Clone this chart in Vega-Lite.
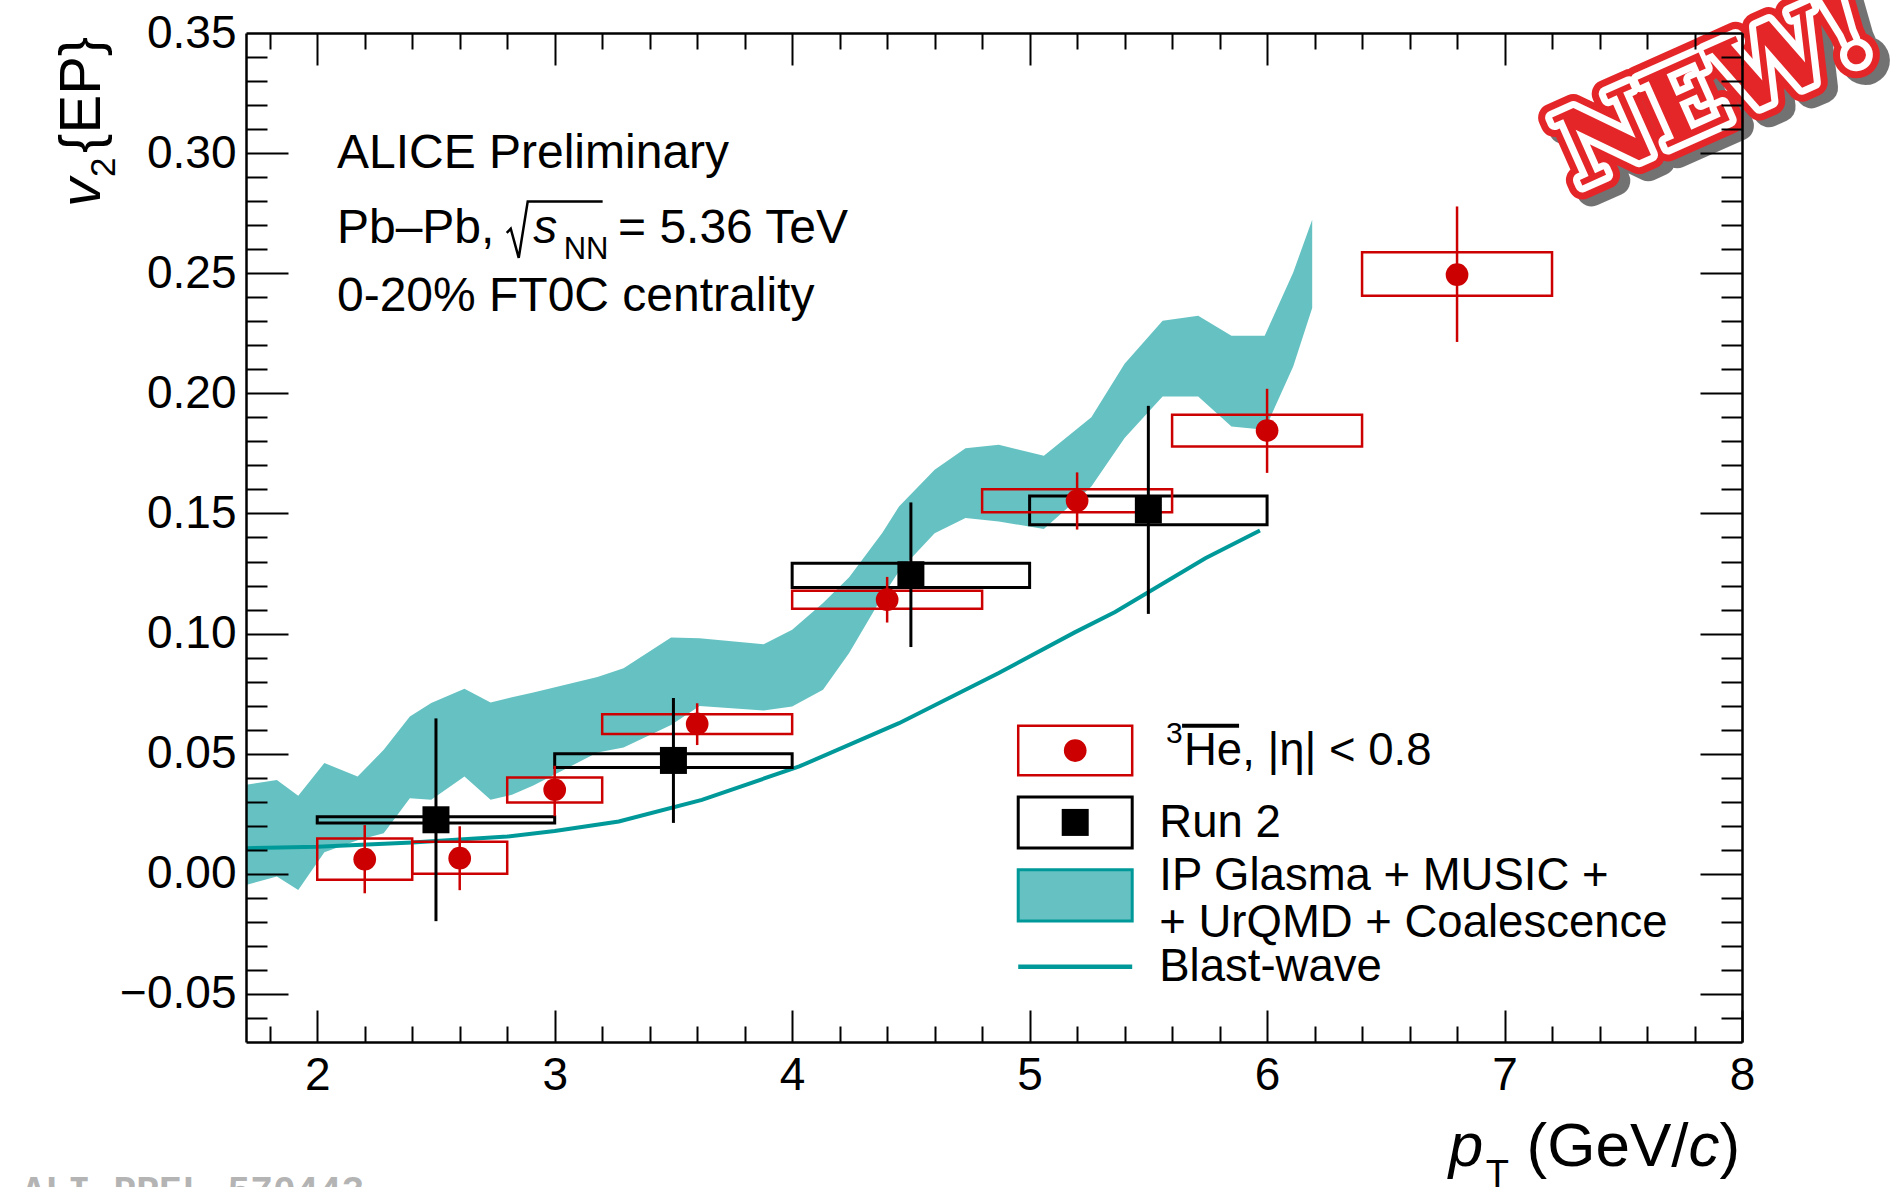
{
"$schema": "https://vega.github.io/schema/vega-lite/v6.json",
"width": 1496, "height": 1009,
"autosize": {"type": "none"},
"padding": {"left": 246, "top": 33, "right": 158, "bottom": 145},
"background": "white",
"config": {"view": {"stroke": null}, "font": "Liberation Sans"},
"resolve": {"axis": {"x": "independent", "y": "independent"}},
"encoding": {
  "x": {"field": "x", "type": "quantitative", "scale": {"domain": [1.7, 8], "nice": false, "zero": false}, "axis": null},
  "y": {"field": "y", "type": "quantitative", "scale": {"domain": [-0.07, 0.35], "nice": false, "zero": false}, "axis": null}
},
"layer": [
{
  "data": {"values": [
    {"x":1.70,"lo":-0.0046,"hi":0.0371},{"x":1.83,"lo":-0.0011,"hi":0.0391},{"x":1.92,"lo":-0.0067,"hi":0.0325},
    {"x":2.03,"lo":0.0090,"hi":0.0461},{"x":2.17,"lo":0.0140,"hi":0.0405},{"x":2.28,"lo":0.0169,"hi":0.0516},
    {"x":2.39,"lo":0.0315,"hi":0.0655},{"x":2.48,"lo":0.0308,"hi":0.0711},{"x":2.62,"lo":0.0405,"hi":0.0770},
    {"x":2.73,"lo":0.0308,"hi":0.0713},{"x":2.82,"lo":0.0329,"hi":0.0735},{"x":2.91,"lo":0.0368,"hi":0.0755},
    {"x":3.18,"lo":0.0505,"hi":0.0819},{"x":3.29,"lo":0.0526,"hi":0.0856},{"x":3.49,"lo":0.0620,"hi":0.0984},
    {"x":3.61,"lo":0.0699,"hi":0.0981},{"x":3.88,"lo":0.0680,"hi":0.0956},{"x":4.00,"lo":0.0697,"hi":0.1016},
    {"x":4.13,"lo":0.0766,"hi":0.1127},{"x":4.24,"lo":0.0919,"hi":0.1235},{"x":4.38,"lo":0.1154,"hi":0.1420},
    {"x":4.45,"lo":0.1260,"hi":0.1529},{"x":4.60,"lo":0.1418,"hi":0.1682},{"x":4.73,"lo":0.1481,"hi":0.1772},
    {"x":4.87,"lo":0.1467,"hi":0.1786},{"x":5.06,"lo":0.1435,"hi":0.1740},{"x":5.26,"lo":0.1612,"hi":0.1901},
    {"x":5.40,"lo":0.1814,"hi":0.2123},{"x":5.56,"lo":0.1987,"hi":0.2302},{"x":5.71,"lo":0.1987,"hi":0.2323},
    {"x":5.85,"lo":0.1862,"hi":0.2240},{"x":5.99,"lo":0.1848,"hi":0.2240},{"x":6.11,"lo":0.2112,"hi":0.2503},
    {"x":6.19,"lo":0.2355,"hi":0.2723}
  ]},
  "mark": {"type": "area", "color": "#66c2c2", "opacity": 1},
  "encoding": {
    "x": {"field": "x", "type": "quantitative", "scale": {"domain": [1.7, 8], "nice": false, "zero": false},
      "axis": {"orient": "bottom", "values": [2,3,4,5,6,7,8], "format": "d", "ticks": false, "tickSize": 0, "domain": true, "domainColor": "black", "domainWidth": 2.5, "grid": false, "labels": true, "labelFont": "Liberation Sans", "labelFontSize": 46, "labelColor": "black", "labelPadding": 11, "labelFlush": false, "labelOverlap": false, "title": null, "zindex": 2}},
    "y": {"field": "lo", "type": "quantitative", "scale": {"domain": [-0.07, 0.35], "nice": false, "zero": false},
      "axis": {"orient": "left", "values": [-0.05,0,0.05,0.1,0.15,0.2,0.25,0.3,0.35], "format": ".2f", "ticks": false, "tickSize": 0, "domain": true, "domainColor": "black", "domainWidth": 2.5, "grid": false, "labels": true, "labelFont": "Liberation Sans", "labelFontSize": 46, "labelColor": "black", "labelPadding": 10, "labelFlush": false, "labelOverlap": false, "title": null, "zindex": 2}},
    "y2": {"field": "hi"}
  }
},
{
  "data": {"values": [
    {"x":1.70,"y":0.0107},{"x":2.00,"y":0.0113},{"x":2.40,"y":0.0130},{"x":2.80,"y":0.0155},{"x":3.00,"y":0.0178},
    {"x":3.27,"y":0.0218},{"x":3.62,"y":0.0308},{"x":4.03,"y":0.0447},{"x":4.45,"y":0.0627},{"x":4.87,"y":0.0836},
    {"x":5.19,"y":0.1005},{"x":5.36,"y":0.1090},{"x":5.74,"y":0.1314},{"x":5.97,"y":0.1429}
  ]},
  "mark": {"type": "line", "color": "#009999", "strokeWidth": 4},
  "encoding": {
    "x": {"field": "x", "type": "quantitative", "scale": {"domain": [1.7, 8], "nice": false, "zero": false},
      "axis": {"orient": "bottom", "values": [2,3,4,5,6,7,8], "labels": false, "ticks": true, "tickSize": -32, "tickWidth": 2, "tickColor": "black", "domain": false, "grid": false, "title": null, "zindex": 2}},
    "y": {"field": "y", "type": "quantitative", "scale": {"domain": [-0.07, 0.35], "nice": false, "zero": false},
      "axis": {"orient": "left", "values": [-0.05,0,0.05,0.1,0.15,0.2,0.25,0.3], "labels": false, "ticks": true, "tickSize": -42, "tickWidth": 2, "tickColor": "black", "domain": false, "grid": false, "title": null, "zindex": 2}}
  }
},
{
  "data": {"values": [
    {"x":2.5,"y":0.0225,"stlo":-0.0197,"sthi":0.0647,"sylo":0.0212,"syhi":0.0238,"blo":2.0,"bhi":3.0},
    {"x":3.5,"y":0.0472,"stlo":0.0212,"sthi":0.0732,"sylo":0.0443,"syhi":0.0500,"blo":3.0,"bhi":4.0},
    {"x":4.5,"y":0.1245,"stlo":0.0944,"sthi":0.1546,"sylo":0.1192,"syhi":0.1293,"blo":4.0,"bhi":5.0},
    {"x":5.5,"y":0.1515,"stlo":0.1082,"sthi":0.1948,"sylo":0.1453,"syhi":0.1573,"blo":5.0,"bhi":6.0}
  ]},
  "mark": {"type": "rect", "filled": false, "color": "black", "strokeWidth": 3},
  "encoding": {
    "x": {"field": "blo", "type": "quantitative", "scale": {"domain": [1.7, 8], "nice": false, "zero": false},
      "axis": {"orient": "bottom", "values": [1.8,2.2,2.4,2.6,2.8,3.2,3.4,3.6,3.8,4.2,4.4,4.6,4.8,5.2,5.4,5.6,5.8,6.2,6.4,6.6,6.8,7.2,7.4,7.6,7.8], "labels": false, "ticks": true, "tickSize": -16, "tickWidth": 2, "tickColor": "black", "domain": false, "grid": false, "title": null, "zindex": 2}},
    "x2": {"field": "bhi"},
    "y": {"field": "sylo", "type": "quantitative", "scale": {"domain": [-0.07, 0.35], "nice": false, "zero": false},
      "axis": {"orient": "left", "values": [-0.06,-0.04,-0.03,-0.02,-0.01,0.01,0.02,0.03,0.04,0.06,0.07,0.08,0.09,0.11,0.12,0.13,0.14,0.16,0.17,0.18,0.19,0.21,0.22,0.23,0.24,0.26,0.27,0.28,0.29,0.31,0.32,0.33,0.34], "labels": false, "ticks": true, "tickSize": -21, "tickWidth": 2, "tickColor": "black", "domain": false, "grid": false, "title": null, "zindex": 2}},
    "y2": {"field": "syhi"}
  }
},
{
  "data": {"values": [
    {"x":2.2,"y":0.0061,"stlo":-0.0081,"sthi":0.0203,"sylo":-0.0025,"syhi":0.0147,"blo":2.0,"bhi":2.4},
    {"x":2.6,"y":0.0065,"stlo":-0.0068,"sthi":0.0198,"sylo":0.0000,"syhi":0.0134,"blo":2.4,"bhi":2.8},
    {"x":3.0,"y":0.0350,"stlo":0.0240,"sthi":0.0450,"sylo":0.0297,"syhi":0.0401,"blo":2.8,"bhi":3.2},
    {"x":3.6,"y":0.0624,"stlo":0.0536,"sthi":0.0710,"sylo":0.0582,"syhi":0.0664,"blo":3.2,"bhi":4.0},
    {"x":4.4,"y":0.1141,"stlo":0.1046,"sthi":0.1236,"sylo":0.1103,"syhi":0.1178,"blo":4.0,"bhi":4.8},
    {"x":5.2,"y":0.1553,"stlo":0.1433,"sthi":0.1671,"sylo":0.1505,"syhi":0.1601,"blo":4.8,"bhi":5.6},
    {"x":6.0,"y":0.1845,"stlo":0.1669,"sthi":0.2019,"sylo":0.1779,"syhi":0.1911,"blo":5.6,"bhi":6.4},
    {"x":6.8,"y":0.2494,"stlo":0.2214,"sthi":0.2778,"sylo":0.2406,"syhi":0.2587,"blo":6.4,"bhi":7.2}
  ]},
  "mark": {"type": "rect", "filled": false, "color": "#cc0000", "strokeWidth": 2.5},
  "encoding": {
    "x": {"field": "blo", "type": "quantitative", "scale": {"domain": [1.7, 8], "nice": false, "zero": false},
      "axis": {"orient": "top", "values": [2,3,4,5,6,7,8], "labels": false, "ticks": true, "tickSize": -32, "tickWidth": 2, "tickColor": "black", "domain": true, "domainColor": "black", "domainWidth": 2.5, "grid": false, "title": null, "zindex": 2}},
    "x2": {"field": "bhi"},
    "y": {"field": "sylo", "type": "quantitative", "scale": {"domain": [-0.07, 0.35], "nice": false, "zero": false},
      "axis": {"orient": "right", "values": [-0.05,0,0.05,0.1,0.15,0.2,0.25,0.3], "labels": false, "ticks": true, "tickSize": -42, "tickWidth": 2, "tickColor": "black", "domain": true, "domainColor": "black", "domainWidth": 2.5, "grid": false, "title": null, "zindex": 2}},
    "y2": {"field": "syhi"}
  }
},
{
  "data": {"values": [
    {"x":2.5,"y":0.0225,"stlo":-0.0197,"sthi":0.0647},
    {"x":3.5,"y":0.0472,"stlo":0.0212,"sthi":0.0732},
    {"x":4.5,"y":0.1245,"stlo":0.0944,"sthi":0.1546},
    {"x":5.5,"y":0.1515,"stlo":0.1082,"sthi":0.1948}
  ]},
  "mark": {"type": "rule", "color": "black", "strokeWidth": 3},
  "encoding": {
    "x": {"field": "x", "type": "quantitative", "scale": {"domain": [1.7, 8], "nice": false, "zero": false},
      "axis": {"orient": "top", "values": [1.8,2.2,2.4,2.6,2.8,3.2,3.4,3.6,3.8,4.2,4.4,4.6,4.8,5.2,5.4,5.6,5.8,6.2,6.4,6.6,6.8,7.2,7.4,7.6,7.8], "labels": false, "ticks": true, "tickSize": -16, "tickWidth": 2, "tickColor": "black", "domain": false, "grid": false, "title": null, "zindex": 2}},
    "y": {"field": "stlo", "type": "quantitative", "scale": {"domain": [-0.07, 0.35], "nice": false, "zero": false},
      "axis": {"orient": "right", "values": [-0.06,-0.04,-0.03,-0.02,-0.01,0.01,0.02,0.03,0.04,0.06,0.07,0.08,0.09,0.11,0.12,0.13,0.14,0.16,0.17,0.18,0.19,0.21,0.22,0.23,0.24,0.26,0.27,0.28,0.29,0.31,0.32,0.33,0.34], "labels": false, "ticks": true, "tickSize": -21, "tickWidth": 2, "tickColor": "black", "domain": false, "grid": false, "title": null, "zindex": 2}},
    "y2": {"field": "sthi"}
  }
},
{
  "data": {"values": [
    {"x":2.2,"stlo":-0.0081,"sthi":0.0203},{"x":2.6,"stlo":-0.0068,"sthi":0.0198},{"x":3.0,"stlo":0.0240,"sthi":0.0450},
    {"x":3.6,"stlo":0.0536,"sthi":0.0710},{"x":4.4,"stlo":0.1046,"sthi":0.1236},{"x":5.2,"stlo":0.1433,"sthi":0.1671},
    {"x":6.0,"stlo":0.1669,"sthi":0.2019},{"x":6.8,"stlo":0.2214,"sthi":0.2778}
  ]},
  "mark": {"type": "rule", "color": "#cc0000", "strokeWidth": 2.5},
  "encoding": {
    "y": {"field": "stlo", "type": "quantitative", "scale": {"domain": [-0.07, 0.35], "nice": false, "zero": false}, "axis": null},
    "y2": {"field": "sthi"}
  }
},
{
  "data": {"values": [
    {"x":2.5,"y":0.0225},{"x":3.5,"y":0.0472},{"x":4.5,"y":0.1245},{"x":5.5,"y":0.1515},
    {"x":5.192,"y":0.0214}
  ]},
  "mark": {"type": "point", "shape": "square", "filled": true, "color": "black", "size": 729, "opacity": 1}
},
{
  "data": {"values": [
    {"x":2.2,"y":0.0061},{"x":2.6,"y":0.0065},{"x":3.0,"y":0.0350},{"x":3.6,"y":0.0624},
    {"x":4.4,"y":0.1141},{"x":5.2,"y":0.1553},{"x":6.0,"y":0.1845},{"x":6.8,"y":0.2494},
    {"x":5.192,"y":0.0513}
  ]},
  "mark": {"type": "point", "shape": "circle", "filled": true, "color": "#cc0000", "size": 515, "opacity": 1}
},
{
  "data": {"values": [{"x":4.952,"x2":5.432,"y":0.041,"y2":0.0616}]},
  "mark": {"type": "rect", "filled": false, "color": "#cc0000", "strokeWidth": 2.5},
  "encoding": {"x2": {"field": "x2"}, "y2": {"field": "y2"}}
},
{
  "data": {"values": [{"x":4.952,"x2":5.432,"y":0.0108,"y2":0.032}]},
  "mark": {"type": "rect", "filled": false, "color": "black", "strokeWidth": 3},
  "encoding": {"x2": {"field": "x2"}, "y2": {"field": "y2"}}
},
{
  "data": {"values": [{"x":4.952,"x2":5.432,"y":-0.0196,"y2":0.0017}]},
  "mark": {"type": "rect", "fill": "#66c2c2", "stroke": "#009999", "strokeWidth": 3},
  "encoding": {"x2": {"field": "x2"}, "y2": {"field": "y2"}}
},
{
  "data": {"values": [{"x":4.952,"x2":5.432,"y":-0.0387}]},
  "mark": {"type": "rule", "color": "#009999", "strokeWidth": 4.5},
  "encoding": {"x2": {"field": "x2"}}
},
{
  "data": {"values": [{"x":5.642,"x2":5.882,"y":0.0616}]},
  "mark": {"type": "rule", "color": "black", "strokeWidth": 4},
  "encoding": {"x2": {"field": "x2"}}
},
{
  "data": {"values": [
    {"x":2.798,"y":0.2668},{"x":2.8149,"y":0.2685},{"x":2.8485,"y":0.2564},{"x":2.8864,"y":0.2799},{"x":3.2019,"y":0.2799}
  ]},
  "mark": {"type": "line", "color": "black", "strokeWidth": 2.5, "strokeJoin": "miter"},
  "encoding": {}
},
{
  "data": {"values": [
    {"x":2.083,"y":0.2939,"t":"ALICE Preliminary"},
    {"x":2.083,"y":0.2626,"t":"Pb–Pb,"},
    {"x":3.2667,"y":0.2626,"t":"= 5.36 TeV"},
    {"x":2.083,"y":0.2341,"t":"0-20% FT0C centrality"}
  ]},
  "mark": {"type": "text", "align": "left", "baseline": "alphabetic", "font": "Liberation Sans", "fontSize": 48, "color": "black"},
  "encoding": {"text": {"field": "t"}}
},
{
  "data": {"values": [{"x":2.9095,"y":0.2626,"t":"s"}]},
  "mark": {"type": "text", "align": "left", "baseline": "alphabetic", "font": "Liberation Sans", "fontStyle": "italic", "fontSize": 48, "color": "black"},
  "encoding": {"text": {"field": "t"}}
},
{
  "data": {"values": [{"x":3.0378,"y":0.2558,"t":"NN"}]},
  "mark": {"type": "text", "align": "left", "baseline": "alphabetic", "font": "Liberation Sans", "fontSize": 31, "color": "black"},
  "encoding": {"text": {"field": "t"}}
},
{
  "data": {"values": [
    {"x":5.650,"y":0.0451,"t":"He, |η| < 0.8"},
    {"x":5.546,"y":0.0153,"t":"Run 2"},
    {"x":5.546,"y":-0.0067,"t":"IP Glasma + MUSIC +"},
    {"x":5.546,"y":-0.0264,"t":"+ UrQMD + Coalescence"},
    {"x":5.546,"y":-0.0448,"t":"Blast-wave"}
  ]},
  "mark": {"type": "text", "align": "left", "baseline": "alphabetic", "font": "Liberation Sans", "fontSize": 45.5, "color": "black"},
  "encoding": {"text": {"field": "t"}}
},
{
  "data": {"values": [{"x":5.5747,"y":0.0544,"t":"3"}]},
  "mark": {"type": "text", "align": "left", "baseline": "alphabetic", "font": "Liberation Sans", "fontSize": 30, "color": "black"},
  "encoding": {"text": {"field": "t"}}
},
{
  "data": {"values": [{"x":7.093,"y":-0.1218,"t":"(GeV/"},{"x":7.905,"y":-0.1218,"t":")"}]},
  "mark": {"type": "text", "align": "left", "baseline": "alphabetic", "font": "Liberation Sans", "fontSize": 62, "color": "black"},
  "encoding": {"text": {"field": "t"}}
},
{
  "data": {"values": [{"x":6.765,"y":-0.1218,"t":"p"},{"x":7.775,"y":-0.1218,"t":"c"}]},
  "mark": {"type": "text", "align": "left", "baseline": "alphabetic", "font": "Liberation Sans", "fontStyle": "italic", "fontSize": 62, "color": "black"},
  "encoding": {"text": {"field": "t"}}
},
{
  "data": {"values": [{"x":6.921,"y":-0.1303,"t":"T"}]},
  "mark": {"type": "text", "align": "left", "baseline": "alphabetic", "font": "Liberation Sans", "fontSize": 38, "color": "black"},
  "encoding": {"text": {"field": "t"}}
},
{
  "data": {"values": [{"x":1.0858,"y":0.2776,"t":"v"}]},
  "mark": {"type": "text", "align": "left", "baseline": "alphabetic", "angle": 270, "font": "Liberation Sans", "fontStyle": "italic", "fontSize": 58, "color": "black"},
  "encoding": {"text": {"field": "t"}}
},
{
  "data": {"values": [{"x":1.0858,"y":0.3001,"t":"{EP}"}]},
  "mark": {"type": "text", "align": "left", "baseline": "alphabetic", "angle": 270, "font": "Liberation Sans", "fontSize": 58, "color": "black"},
  "encoding": {"text": {"field": "t"}}
},
{
  "data": {"values": [{"x":1.1489,"y":0.2901,"t":"2"}]},
  "mark": {"type": "text", "align": "left", "baseline": "alphabetic", "angle": 270, "font": "Liberation Sans", "fontSize": 35, "color": "black"},
  "encoding": {"text": {"field": "t"}}
},
{
  "data": {"values": [{"x":0.7576,"y":-0.137,"t":"ALI-PREL-570443"}]},
  "mark": {"type": "text", "align": "left", "baseline": "alphabetic", "font": "Liberation Mono", "fontWeight": "bold", "fontSize": 38, "color": "#b4b4b4"},
  "encoding": {"text": {"field": "t"}}
},
{
  "data": {"values": [{"x":7.893,"y":0.3255,"t":"NEW!"}]},
  "layer": [
    {"mark": {"type": "text", "align": "center", "baseline": "middle", "angle": 336, "font": "DejaVu Serif", "fontWeight": "bold", "fontSize": 102, "fill": "black", "stroke": "black", "strokeWidth": 30, "strokeJoin": "round", "opacity": 0.55, "dx": 6, "dy": 9},
     "encoding": {"text": {"field": "t"}}},
    {"mark": {"type": "text", "align": "center", "baseline": "middle", "angle": 336, "font": "DejaVu Serif", "fontWeight": "bold", "fontSize": 102, "fill": "#e52629", "stroke": "#e52629", "strokeWidth": 28, "strokeJoin": "round"},
     "encoding": {"text": {"field": "t"}}},
    {"mark": {"type": "text", "align": "center", "baseline": "middle", "angle": 336, "font": "DejaVu Serif", "fontWeight": "bold", "fontSize": 102, "fill": "white", "stroke": "white", "strokeWidth": 14, "strokeJoin": "round"},
     "encoding": {"text": {"field": "t"}}},
    {"mark": {"type": "text", "align": "center", "baseline": "middle", "angle": 336, "font": "DejaVu Serif", "fontWeight": "bold", "fontSize": 102, "fill": "#e52629"},
     "encoding": {"text": {"field": "t"}}}
  ]
}
]
}
